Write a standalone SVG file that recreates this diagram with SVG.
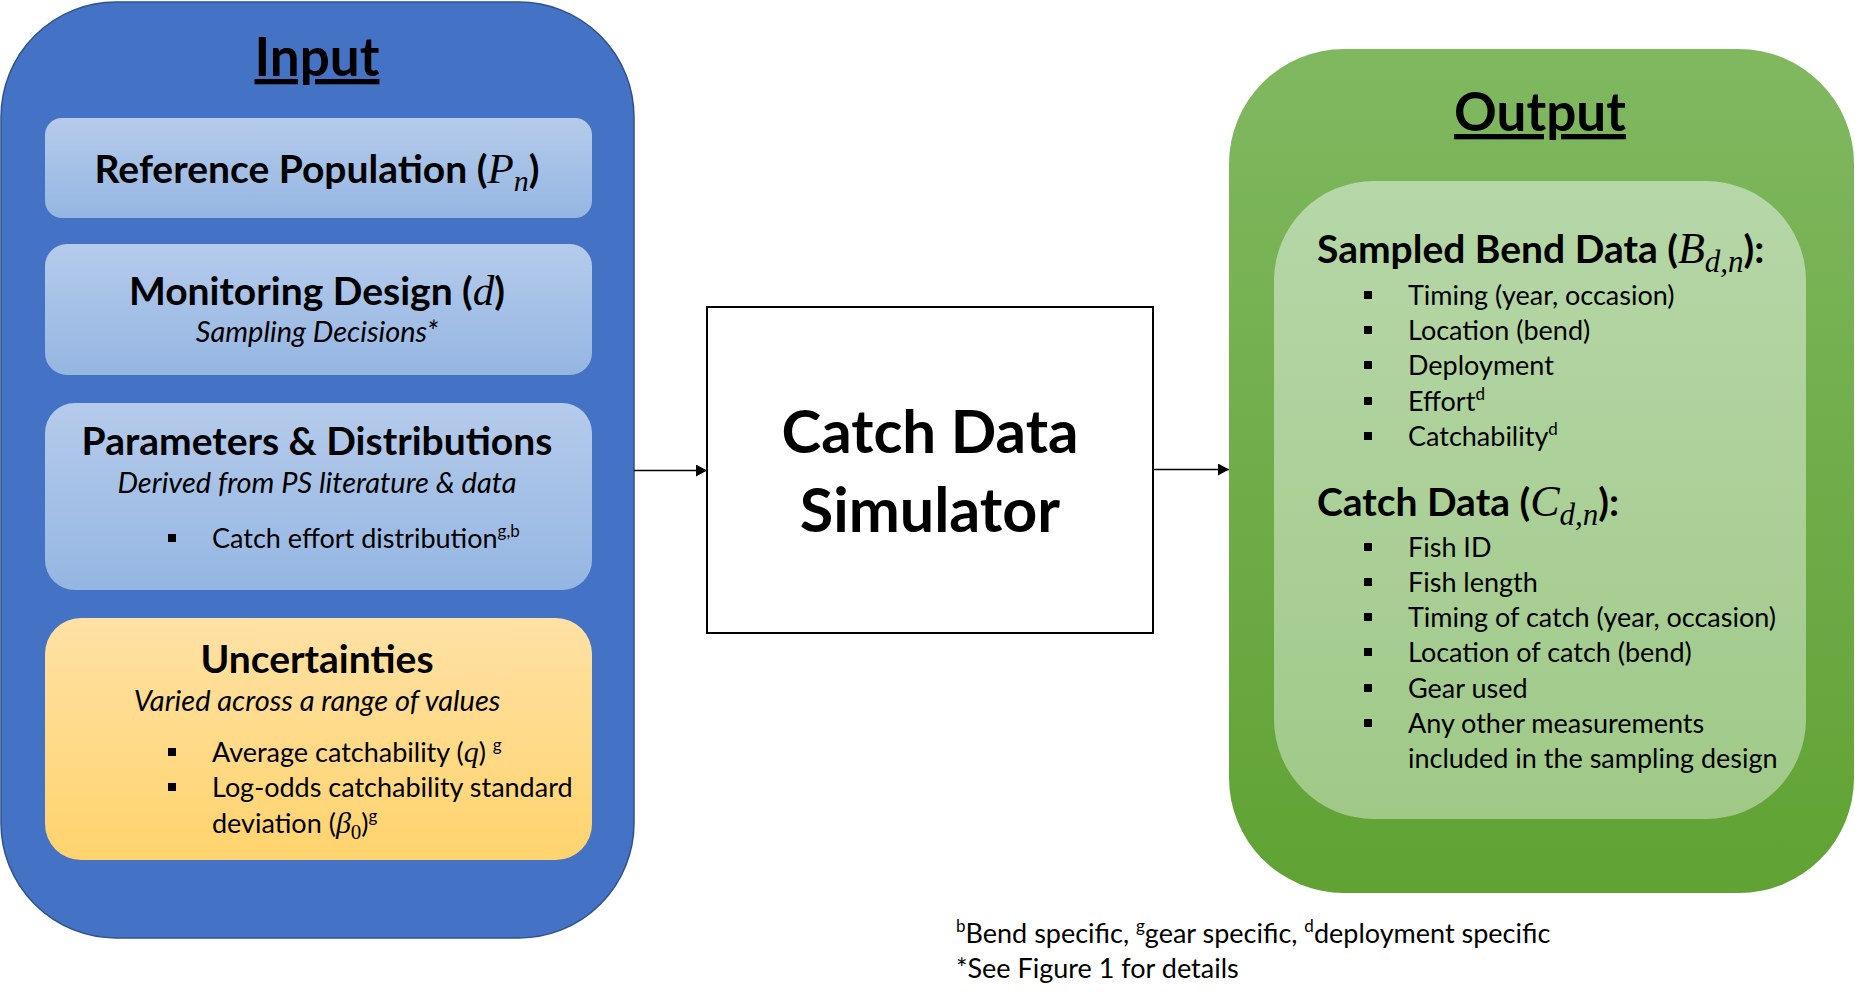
<svg xmlns="http://www.w3.org/2000/svg" width="1855" height="1004" viewBox="0 0 1855 1004">
<defs>
<linearGradient id="gBlue" x1="0" y1="0" x2="0" y2="1"><stop offset="0" stop-color="#B5CBEB"/><stop offset="1" stop-color="#95B6E2"/></linearGradient>
<linearGradient id="gGold" x1="0" y1="0" x2="0" y2="1"><stop offset="0" stop-color="#FFE1A5"/><stop offset="1" stop-color="#FFD36D"/></linearGradient>
<linearGradient id="gGreen" x1="0" y1="0" x2="0" y2="1"><stop offset="0" stop-color="#80B860"/><stop offset="1" stop-color="#60A233"/></linearGradient>
<linearGradient id="gLight" x1="0" y1="0" x2="0" y2="1"><stop offset="0" stop-color="#B6D7A8"/><stop offset="1" stop-color="#A0C988"/></linearGradient>
<marker id="arr" viewBox="0 0 11 12" refX="11" refY="6" markerWidth="11" markerHeight="12" markerUnits="userSpaceOnUse" orient="auto"><path d="M0,0 L11,6 L0,12 z" fill="#000"/></marker>
</defs>
<style>
.f{font-family:Lato,'Liberation Sans',sans-serif;fill:#000}
.title{font-size:53px;font-weight:700;text-decoration:underline}
.h{font-size:39px;font-weight:700}
.it{font-size:29px;font-style:italic}
.b{font-size:27px}
.m{font-family:'Liberation Serif','DejaVu Serif',serif;font-style:italic;font-weight:400}
.mn{font-family:'Liberation Serif','DejaVu Serif',serif;font-style:normal;font-weight:400}
.sup{font-size:17px}
.blt{fill:#000}
.sub{fill:url(#gBlue)}
</style>

<g id="input">
<rect x="1" y="2" width="633" height="936" rx="115" ry="115" fill="#4472C4" stroke="#2F528F" stroke-width="1.5"/>
<text class="f title" x="317" y="76" text-anchor="middle">Input</text>
</g>

<g id="reference-population">
<rect class="sub" x="45" y="118" width="547" height="100" rx="17"/>
<text class="f h" x="317" y="183" text-anchor="middle">Reference Population (<tspan class="m" font-size="43">P</tspan><tspan class="m" font-size="30" dy="8">n</tspan><tspan dy="-8">)</tspan></text>
</g>

<g id="monitoring-design">
<rect class="sub" x="45" y="244" width="547" height="131" rx="22"/>
<text class="f h" x="317" y="305" text-anchor="middle">Monitoring Design (<tspan class="m" font-size="43">d</tspan>)</text>
<text class="f it" x="317" y="342" text-anchor="middle">Sampling Decisions*</text>
</g>

<g id="parameters-distributions">
<rect class="sub" x="45" y="403" width="547" height="187" rx="30"/>
<text class="f h" x="317" y="455" text-anchor="middle">Parameters &amp; Distributions</text>
<text class="f it" x="317" y="493" text-anchor="middle">Derived from PS literature &amp; data</text>
<rect class="blt" x="168" y="534" width="8" height="8"/>
<text class="f b" x="212" y="548">Catch effort distribution<tspan class="sup" dy="-11">g,b</tspan></text>
</g>

<g id="uncertainties">
<rect x="45" y="618" width="547" height="242" rx="36" fill="url(#gGold)"/>
<text class="f h" x="317" y="673" text-anchor="middle">Uncertainties</text>
<text class="f it" x="317" y="711" text-anchor="middle">Varied across a range of values</text>
<rect class="blt" x="168" y="748" width="8" height="8"/>
<text class="f b" x="212" y="762">Average catchability (<tspan class="m" font-size="30">q</tspan>) <tspan class="sup" dy="-11">g</tspan></text>
<rect class="blt" x="168" y="783" width="8" height="8"/>
<text class="f b" x="212" y="797">Log-odds catchability standard</text>
<text class="f b" x="212" y="833">deviation (<tspan class="m" font-size="30">β</tspan><tspan class="mn" font-size="21" dy="6">0</tspan><tspan dy="-6">)</tspan><tspan class="sup" dy="-11">g</tspan></text>
</g>

<g id="simulator">
<rect x="707" y="307" width="446" height="326" fill="#FFFFFF" stroke="#000" stroke-width="2"/>
<text class="f" x="930" y="453" text-anchor="middle" font-size="60" font-weight="700">Catch Data</text>
<text class="f" x="930" y="532" text-anchor="middle" font-size="61" font-weight="700">Simulator</text>
</g>

<g id="output">
<rect x="1229" y="49" width="625" height="844" rx="115" ry="115" fill="url(#gGreen)"/>
<text class="f title" x="1540" y="131" text-anchor="middle">Output</text>
<rect x="1274" y="181" width="532" height="638" rx="100" ry="100" fill="url(#gLight)"/>
<text class="f h" x="1317" y="263">Sampled Bend Data (<tspan class="m" font-size="44">B</tspan><tspan class="m" font-size="31" dy="9">d,n</tspan><tspan dy="-9">):</tspan></text>
<g class="blt">
<rect x="1364" y="291" width="8" height="8"/>
<rect x="1364" y="326" width="8" height="8"/>
<rect x="1364" y="361" width="8" height="8"/>
<rect x="1364" y="397" width="8" height="8"/>
<rect x="1364" y="432" width="8" height="8"/>
</g>
<text class="f b" x="1408" y="305">Timing (year, occasion)</text>
<text class="f b" x="1408" y="340">Location (bend)</text>
<text class="f b" x="1408" y="375">Deployment</text>
<text class="f b" x="1408" y="411">Effort<tspan class="sup" dy="-11">d</tspan></text>
<text class="f b" x="1408" y="446">Catchability<tspan class="sup" dy="-11">d</tspan></text>
<text class="f h" x="1317" y="516">Catch Data (<tspan class="m" font-size="44">C</tspan><tspan class="m" font-size="31" dy="9">d,n</tspan><tspan dy="-9">):</tspan></text>
<g class="blt">
<rect x="1364" y="543" width="8" height="8"/>
<rect x="1364" y="578" width="8" height="8"/>
<rect x="1364" y="613" width="8" height="8"/>
<rect x="1364" y="648" width="8" height="8"/>
<rect x="1364" y="684" width="8" height="8"/>
<rect x="1364" y="719" width="8" height="8"/>
</g>
<text class="f b" x="1408" y="557">Fish ID</text>
<text class="f b" x="1408" y="592">Fish length</text>
<text class="f b" x="1408" y="627">Timing of catch (year, occasion)</text>
<text class="f b" x="1408" y="662">Location of catch (bend)</text>
<text class="f b" x="1408" y="698">Gear used</text>
<text class="f b" x="1408" y="733">Any other measurements</text>
<text class="f b" x="1408" y="768">included in the sampling design</text>
</g>

<g id="connectors" stroke="#000" stroke-width="1.5" fill="none">
<line x1="634" y1="470.5" x2="707" y2="470.5" marker-end="url(#arr)"/>
<line x1="1153" y1="469.5" x2="1229" y2="469.5" marker-end="url(#arr)"/>
</g>

<g id="footnotes">
<text class="f b" x="956" y="943"><tspan class="sup" dy="-11">b</tspan><tspan dy="11">Bend specific, </tspan><tspan class="sup" dy="-11">g</tspan><tspan dy="11">gear specific, </tspan><tspan class="sup" dy="-11">d</tspan><tspan dy="11">deployment specific</tspan></text>
<text class="f b" x="956" y="978">*See Figure 1 for details</text>
</g>
</svg>
